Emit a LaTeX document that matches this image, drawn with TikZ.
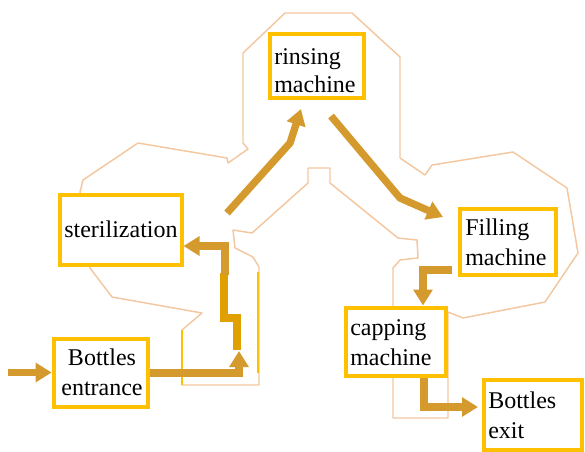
\documentclass[tikz,border=0pt]{standalone}
\usepackage{fontspec}
\setmainfont{Liberation Serif}
\usetikzlibrary{arrows.meta}
\definecolor{boxyellow}{HTML}{FFC000}
\definecolor{flowgold}{HTML}{D59A2D}
\definecolor{darkgold}{HTML}{E0A000}
\definecolor{outlinepeach}{HTML}{F3C7A0}
\tikzset{
  stagebox/.style={draw=boxyellow, line width=3pt, fill=white, inner sep=0pt},
  stagetext/.style={anchor=base west, align=left, inner sep=0pt, text=black,
    font=\fontsize{18}{22.5}\selectfont},
  flow/.style={draw=flowgold, line width=5.5pt,
    -{Triangle[length=12pt,width=14pt]}},
  zigzag/.style={draw=darkgold, line width=6pt},
  outline/.style={draw=outlinepeach, line width=1.1pt, line join=round},
  yline/.style={draw=boxyellow, line width=1.5pt}
}
\begin{document}
\begin{tikzpicture}[x=0.75pt,y=-0.75pt]
\useasboundingbox (0,0) rectangle (585,451);
% big outline of the plant
\draw[outline] (285,13) -- (352,13) -- (400,57) -- (400,158) -- (425,175) -- (432,165)
  -- (513,152) -- (567,188) -- (578,253) -- (545,302) -- (463,318) -- (448,312)
  -- (448,418) -- (393,418) -- (393,268) -- (400,260) -- (418,258) -- (417,240)
  -- (398,238) -- (330,183) -- (330,168) -- (308,168) -- (308,183) -- (252,233)
  -- (233,230) -- (235,248) -- (253,257) -- (259,267) -- (259,385) -- (182,385)
  -- (182,330) -- (202,313) -- (112,297) -- (90,268) -- (80,192) -- (83,180)
  -- (138,143) -- (227,158) -- (228,163) -- (248,149) -- (243,143) -- (243,53) -- cycle;
\coordinate (y1a) at (258,272);
\coordinate (y1b) at (258,373);
\coordinate (y2a) at (182,330);
\coordinate (y2b) at (182,385);
\draw[yline] (y1a) -- (y1b);
\draw[yline] (y2a) -- (y2b);

% boxes
\node[stagebox, minimum width=70pt, minimum height=48pt] (rinse) at (317,65.5) {};
\node[stagebox, minimum width=91.5pt, minimum height=53pt] (steril) at (120.5,230) {};
\node[stagebox, minimum width=72.5pt, minimum height=50pt] (fill) at (508,242) {};
\node[stagebox, minimum width=75pt, minimum height=51pt] (cap) at (395.5,341.5) {};
\node[stagebox, minimum width=73.5pt, minimum height=52pt] (exit) at (532.5,415) {};
\node[stagebox, minimum width=71pt, minimum height=51pt] (entr) at (101,372.5) {};

% texts (anchor = baseline of the last line)
\node[stagetext, font=\fontsize{18}{20.5}\selectfont] (trinse) at (274,92) {rinsing\\machine};
\node[stagetext] (tsteril) at (64,237) {sterilization};
\node[stagetext] (tfill) at (465,265) {Filling\\machine};
\node[stagetext] (tcap) at (350,365) {capping\\machine};
\node[stagetext] (texit) at (488,438) {Bottles\\exit};
\node[stagetext, anchor=base, align=center] (tentr) at (102,395) {Bottles\\entrance};

% flow connectors
\coordinate (src) at (8,372.5);
\draw[flow] (src) -- (entr.west);

\coordinate (e1) at (239,373);
\coordinate (e2) at (239,351);
\draw[flow] (entr.east |- e1) -- (e1) -- (e2);

\coordinate (z1) at (224,273);
\coordinate (z2) at (224,318);
\coordinate (z3) at (237,318);
\coordinate (z4) at (237,350);
\draw[zigzag] (z1) -- (z2) -- (z3) -- (z4);

\coordinate (s0) at (225,275);
\coordinate (s1) at (225,246);
\draw[flow] (s0) -- (s1) -- (steril.east |- s1);

\coordinate (r0) at (227,213);
\coordinate (r1) at (290,143);
\coordinate (r2) at (301,109);
\draw[flow] (r0) -- (r1) -- (r2);

\coordinate (f0) at (331,116);
\coordinate (f1) at (400,198);
\coordinate (f2) at (443,217);
\draw[flow] (f0) -- (f1) -- (f2);

\coordinate (c0) at (452,270);
\coordinate (c1) at (423,270);
\draw[flow] (c0) -- (c1) -- (c1 |- cap.north);

\coordinate (x1) at (424,407);
\coordinate (x2) at (478,407);
\draw[flow] (cap.south -| x1) -- (x1) -- (x2);
\end{tikzpicture}
\end{document}
